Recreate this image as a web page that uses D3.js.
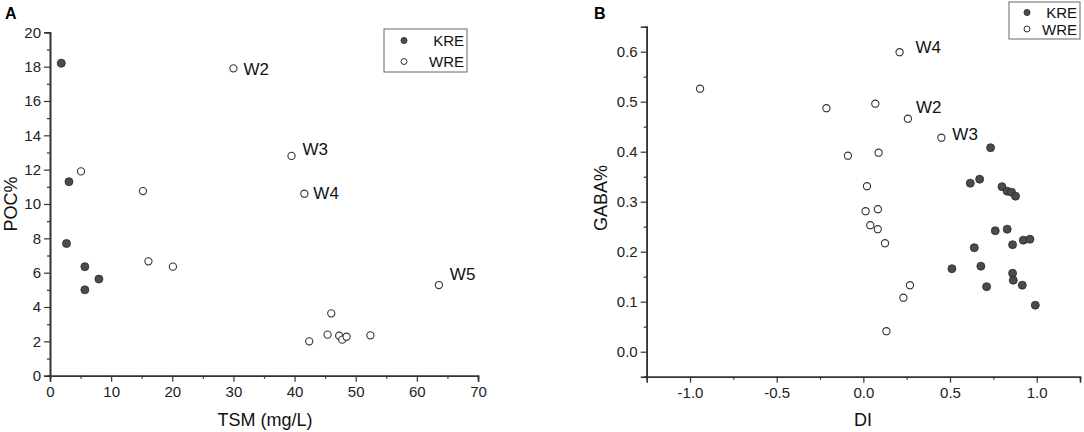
<!DOCTYPE html>
<html>
<head>
<meta charset="utf-8">
<script src="https://cdn.jsdelivr.net/npm/d3@7"></script>
<style>
  body { margin: 0; background: #fff; }
  svg { font-family: "Liberation Sans", Arial, sans-serif; }
</style>
</head>
<body>
<div id="wrapper"></div>
<script>
// Panel A: TSM (mg/L) vs POC%
const tsmKRE = [1.85, 3.1, 2.7, 5.7, 5.7, 8.0];
const pocKRE = [18.2, 11.3, 7.7, 6.35, 5.0, 5.63];
const tsmWRE = [5.07, 15.2, 30.0, 16.1, 20.1, 39.5, 41.6, 63.6, 46.0, 45.4, 42.4, 47.3, 47.8, 48.5, 52.4];
const pocWRE = [11.9, 10.75, 17.9, 6.66, 6.35, 12.8, 10.6, 5.28, 3.63, 2.39, 2.0, 2.33, 2.1, 2.27, 2.35];
const namesA = ["", "", "W2", "", "", "W3", "W4", "W5", "", "", "", "", "", "", ""];

// Panel B: DI vs GABA%
const diKRE = [0.734, 0.617, 0.671, 0.80, 0.83, 0.855, 0.878, 0.761, 0.83, 0.923, 0.961, 0.861, 0.64,
  0.511, 0.678, 0.861, 0.865, 0.711, 0.917, 0.992];
const gabaKRE = [0.408, 0.337, 0.345, 0.330, 0.321, 0.319, 0.311, 0.242, 0.245, 0.223, 0.225, 0.214, 0.208,
  0.166, 0.171, 0.157, 0.143, 0.130, 0.133, 0.093];
const diWRE = [-0.942, 0.209, -0.213, 0.069, 0.257, 0.45, -0.089, 0.088, 0.021, 0.013, 0.084, 0.040, 0.083,
  0.125, 0.269, 0.231, 0.133];
const gabaWRE = [0.526, 0.599, 0.487, 0.496, 0.466, 0.428, 0.392, 0.398, 0.331, 0.281, 0.285, 0.253, 0.245,
  0.217, 0.133, 0.108, 0.041];
const namesB = ["", "W4", "", "", "W2", "W3", "", "", "", "", "", "", "", "", "", "", ""];

const ticksA_x = [0, 10, 20, 30, 40, 50, 60, 70];
const ticksA_y = [0, 2, 4, 6, 8, 10, 12, 14, 16, 18, 20];
const ticksB_x = [-1.0, -0.5, 0.0, 0.5, 1.0];
const ticksB_y = [0.0, 0.1, 0.2, 0.3, 0.4, 0.5, 0.6];
const seriesNames = ["KRE", "WRE"];

const width = 1084, height = 432;
const ink = "#333";
const fillDark = "#4b4b4b";

const svg = d3.select("#wrapper").append("svg")
    .attr("width", width)
    .attr("height", height);

function zip(xs, ys, names) {
  return xs.map((x, i) => ({x: x, y: ys[i], name: names ? names[i] : ""}));
}

function minorTicks(major, step) {
  let out = [];
  for (let i = 0; i < major.length - 1; i++) out.push(major[i] + step);
  return out;
}

// plain hyphen for negatives, like the original plot
const fmtInt = d => String(d);
const fmt1 = d => d.toFixed(1);

function panel(opt) {
  const x = d3.scaleLinear().domain(opt.xDomain).range(opt.xRange);
  const y = d3.scaleLinear().domain(opt.yDomain).range(opt.yRange);
  const g = svg.append("g");

  // minor ticks
  const xMinor = d3.axisBottom(x).tickValues(opt.xMinor).tickSize(3).tickFormat("");
  const yMinor = d3.axisLeft(y).tickValues(opt.yMinor).tickSize(3).tickFormat("");
  g.append("g").attr("transform", `translate(0,${opt.yRange[0]})`).call(xMinor);
  g.append("g").attr("transform", `translate(${opt.xRange[0]},0)`).call(yMinor);

  const xAxis = d3.axisBottom(x).tickValues(opt.xTicks).tickSize(6).tickPadding(5).tickFormat(opt.xFormat);
  const yAxis = d3.axisLeft(y).tickValues(opt.yTicks).tickSize(6).tickPadding(3).tickFormat(opt.yFormat);
  g.append("g").attr("transform", `translate(0,${opt.yRange[0]})`).call(xAxis);
  g.append("g").attr("transform", `translate(${opt.xRange[0]},0)`).call(yAxis);

  g.selectAll(".domain").attr("stroke", ink).attr("stroke-width", 1.6);
  g.selectAll(".tick line").attr("stroke", ink).attr("stroke-width", 1.2);
  g.selectAll(".tick text")
      .style("font-family", "Liberation Sans, Arial, sans-serif")
      .style("font-size", "15px")
      .attr("fill", "#222");

  // open circles
  g.selectAll("circle.wre")
      .data(opt.wre)
      .enter()
      .append("circle")
      .attr("class", "wre")
      .attr("cx", d => x(d.x))
      .attr("cy", d => y(d.y))
      .attr("r", 3.6)
      .attr("fill", "#fff")
      .attr("stroke", ink)
      .attr("stroke-width", 1.1);

  // filled circles
  g.selectAll("circle.kre")
      .data(opt.kre)
      .enter()
      .append("circle")
      .attr("class", "kre")
      .attr("cx", d => x(d.x))
      .attr("cy", d => y(d.y))
      .attr("r", 4)
      .attr("fill", fillDark)
      .attr("stroke", "#2a2a2a")
      .attr("stroke-width", 0.8);

  // site labels
  g.selectAll("text.site")
      .data(opt.wre.filter(d => d.name))
      .enter()
      .append("text")
      .attr("class", "site")
      .attr("x", d => x(d.x) + opt.labelOffset[d.name][0])
      .attr("y", d => y(d.y) + opt.labelOffset[d.name][1])
      .style("font-size", "17px")
      .attr("fill", "#111")
      .text(d => d.name);

  // panel letter
  g.append("text")
      .attr("x", opt.letterX)
      .attr("y", 19)
      .style("font-size", "16px")
      .style("font-weight", "bold")
      .text(opt.letter);

  // x title
  g.append("text")
      .attr("x", opt.xTitleX)
      .attr("y", 426)
      .attr("text-anchor", "middle")
      .style("font-size", "18px")
      .attr("fill", "#111")
      .text(opt.xTitle);
  // y title
  g.append("text")
      .attr("text-anchor", "middle")
      .attr("transform", `translate(${opt.yTitleX}, ${opt.yTitleY}) rotate(-90)`)
      .style("font-size", "18px")
      .attr("fill", "#111")
      .text(opt.yTitle);

  // legend
  const lg = g.append("g").attr("transform", `translate(${opt.legend.x}, ${opt.legend.y})`);
  lg.append("rect")
      .attr("width", opt.legend.w)
      .attr("height", opt.legend.h)
      .attr("fill", "#fff")
      .attr("stroke", "#666")
      .attr("stroke-width", 1);
  seriesNames.forEach((s, i) => {
    const cy = opt.legend.row0 + i * opt.legend.rowGap;
    lg.append("circle")
        .attr("cx", opt.legend.mx)
        .attr("cy", cy)
        .attr("r", 3)
        .attr("fill", i === 0 ? fillDark : "#fff")
        .attr("stroke", ink)
        .attr("stroke-width", 1);
    lg.append("text")
        .attr("x", opt.legend.w - 3)
        .attr("y", cy + 5.5)
        .attr("text-anchor", "end")
        .style("font-size", "15px")
        .attr("fill", "#111")
        .text(s);
  });
}

panel({
  xDomain: [0, 70], xRange: [50, 478],
  yDomain: [0, 20], yRange: [375.7, 32.3],
  xTicks: ticksA_x, yTicks: ticksA_y,
  xMinor: minorTicks(ticksA_x, 5), yMinor: minorTicks(ticksA_y, 1),
  xFormat: fmtInt, yFormat: fmtInt,
  kre: zip(tsmKRE, pocKRE), wre: zip(tsmWRE, pocWRE, namesA),
  labelOffset: {W2: [10, 7], W3: [11, -1], W4: [9, 5], W5: [11, -5]},
  letter: "A", letterX: 5,
  xTitle: "TSM (mg/L)", xTitleX: 265,
  yTitle: "POC%", yTitleX: 17, yTitleY: 204,
  legend: {x: 384, y: 29, w: 83, h: 43, mx: 20, row0: 11.5, rowGap: 21}
});

panel({
  xDomain: [-1.25, 1.25], xRange: [646.7, 1080],
  yDomain: [-0.05, 0.65], yRange: [376.7, 26.7],
  xTicks: ticksB_x, yTicks: ticksB_y,
  xMinor: minorTicks(ticksB_x, 0.25).concat([-1.25]), yMinor: minorTicks(ticksB_y, 0.05).concat([-0.05]),
  xFormat: fmt1, yFormat: fmt1,
  kre: zip(diKRE, gabaKRE), wre: zip(diWRE, gabaWRE, namesB),
  labelOffset: {W4: [16, 1], W2: [8, -6], W3: [11, 2]},
  letter: "B", letterX: 594,
  xTitle: "DI", xTitleX: 863,
  yTitle: "GABA%", yTitleX: 607, yTitleY: 198,
  legend: {x: 1009, y: 2, w: 71, h: 37, mx: 18, row0: 10.5, rowGap: 16.5}
});
</script>
</body>
</html>
